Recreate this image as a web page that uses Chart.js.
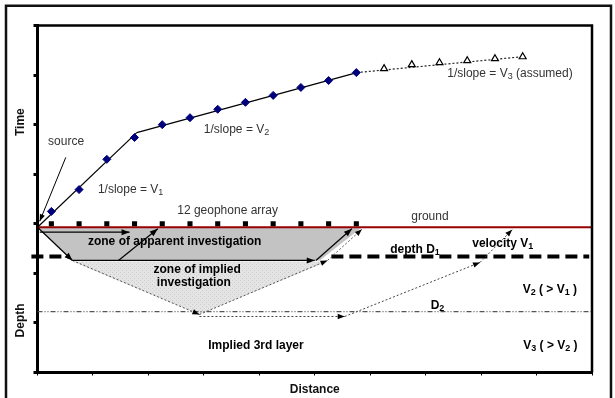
<!DOCTYPE html>
<html>
<head>
<meta charset="utf-8">
<script src="https://cdn.jsdelivr.net/npm/chart.js@4.4.0/dist/chart.umd.min.js"></script>
<style>
  html, body { margin: 0; padding: 0; background: #fff; }
  canvas { display: block; }
</style>
</head>
<body>
<canvas id="chart" width="615" height="398"></canvas>
<script>
// travel-time data (distance, time) - upper part of the figure
const geophoneX = [0.25, 0.75, 1.25, 1.75, 2.25, 2.75, 3.25, 3.75, 4.25, 4.75, 5.25, 5.75];
const arrivalTimes = [3.25, 3.69, 4.30, 4.74, 5.00, 5.14, 5.31, 5.45, 5.59, 5.75, 5.89, 6.05];
const assumedX = [6.25, 6.75, 7.25, 7.75, 8.25, 8.75];
const assumedTimes = [6.13, 6.21, 6.25, 6.29, 6.33, 6.37];
const directFit = [[0, 2.93], [1.79, 4.84]];
const refractedFit = [[1.79, 4.84], [5.76, 6.05]];
const assumedFit = [[5.76, 6.05], [8.74, 6.37]];

// section (distance, depth) - lower part
const groundY = 2.93;
const geophoneY = 3.0;
const depthD1Y = 2.34;
const depthD2Y = 1.23;
const depthD1Spans = [[-0.11, 0.6], [5.3, 9.95]];
const apparentZone = [[0, 2.93], [5.85, 2.93], [5.09, 2.26], [0.63, 2.26], [0, 2.93]];
const impliedZone = [[0.63, 2.24], [5.23, 2.24], [2.92, 1.17], [0.63, 2.24]];
const solidRays = [
  [[0, 2.93], [0.63, 2.26]],
  [[0.04, 2.83], [1.66, 2.83]],
  [[1.46, 2.26], [2.17, 2.9]],
  [[0.63, 2.26], [5.0, 2.26]],
  [[5.02, 2.26], [5.67, 2.9]]
];
const impliedRays = [
  [[0.63, 2.26], [2.92, 1.17]],
  [[2.92, 1.17], [5.23, 2.26]],
  [[5.23, 2.26], [5.85, 2.89]]
];
const deepRays = [
  [[2.92, 1.13], [5.54, 1.13]],
  [[5.54, 1.13], [7.98, 2.22]],
  [[7.98, 2.22], [8.56, 2.88]]
];
const sourcePointer = [[0.51, 4.34], [0.04, 3.05]];

// annotations (x, y in chart units, left aligned unless centred)
const notes = [
  { text: 'source', x: 0.19, y: 4.66 },
  { text: '1/slope = V_1', x: 1.09, y: 3.69 },
  { text: '1/slope = V_2', x: 3.0, y: 4.9 },
  { text: '1/slope = V_3 (assumed)', x: 7.39, y: 6.03 },
  { text: '12 geophone array', x: 2.52, y: 3.27 },
  { text: 'ground', x: 6.74, y: 3.15 },
  { text: 'zone of apparent investigation', x: 0.91, y: 2.64, bold: true },
  { text: 'zone of implied', x: 2.88, y: 2.08, bold: true, center: true },
  { text: 'investigation', x: 2.82, y: 1.82, bold: true, center: true },
  { text: 'depth D_1', x: 6.36, y: 2.48, bold: true },
  { text: 'velocity V_1', x: 7.84, y: 2.6, bold: true },
  { text: 'V_2 ( > V_1 )', x: 8.75, y: 1.67, bold: true },
  { text: 'D_2', x: 7.09, y: 1.35, bold: true },
  { text: 'Implied 3rd layer', x: 3.08, y: 0.54, bold: true },
  { text: 'V_3 ( > V_2 )', x: 8.76, y: 0.54, bold: true }
];

const FONT = '"Liberation Sans", Arial, sans-serif';
const xy = (arr) => arr.map(p => ({ x: p[0], y: p[1] }));

function hatch() {
  const p = document.createElement('canvas');
  p.width = 4; p.height = 4;
  const g = p.getContext('2d');
  g.fillStyle = '#e4e4e4'; g.fillRect(0, 0, 4, 4);
  g.fillStyle = '#cdcdcd'; g.fillRect(0, 0, 1, 1); g.fillRect(2, 2, 1, 1);
  return g.createPattern(p, 'repeat');
}

function line(data, color, width, dash, order, extra) {
  return Object.assign({
    data: xy(data), borderColor: color, borderWidth: width, borderDash: dash,
    pointRadius: 0, fill: false, tension: 0, order
  }, extra || {});
}

const datasets = [];
datasets.push(line(impliedZone, 'rgba(0,0,0,0)', 0, [], 10, { fill: 'shape', backgroundColor: hatch() }));
depthD1Spans.forEach(s => datasets.push(line([[s[0], depthD1Y], [s[1], depthD1Y]], '#000', 4, [12, 6], 9, { clip: false })));
datasets.push(line(apparentZone, 'rgba(0,0,0,0)', 0, [], 8, { fill: 'shape', backgroundColor: '#c3c3c3' }));
datasets.push(line([[0, depthD2Y], [10, depthD2Y]], '#555', 1.3, [5, 2, 1, 2, 1, 2], 7));
datasets.push(line([[0, groundY], [10, groundY]], '#990000', 2, [], 6));
solidRays.forEach(r => datasets.push(line(r, '#000', 1.2, [], 5, { arrow: 8 })));
impliedRays.forEach(r => datasets.push(line(r, '#555', 1, [2, 2], 5, { arrow: 7 })));
deepRays.forEach(r => datasets.push(line(r, '#444', 1, [2, 2], 5, { arrow: 7 })));
datasets.push(line(sourcePointer, '#000', 1, [], 5, { arrow: 7, clip: false }));
datasets.push({
  type: 'scatter', data: geophoneX.map(x => ({ x, y: geophoneY })),
  pointStyle: 'rect', pointRadius: 3.6, backgroundColor: '#000', borderColor: '#000', borderWidth: 0, order: 4
});
datasets.push(line(directFit, '#000', 1.2, [], 3));
datasets.push(line(refractedFit, '#000', 1.2, [], 3));
datasets.push(line(assumedFit, '#222', 1.2, [2, 2], 3));
datasets.push({
  type: 'scatter', data: geophoneX.map((x, i) => ({ x, y: arrivalTimes[i] })),
  pointStyle: 'rectRot', pointRadius: 4, backgroundColor: '#00007a', borderColor: '#00007a', borderWidth: 1, order: 1
});
datasets.push({
  type: 'scatter', data: assumedX.map((x, i) => ({ x, y: assumedTimes[i] })),
  pointStyle: 'triangle', pointRadius: 4, backgroundColor: '#fff', borderColor: '#000', borderWidth: 1.2, order: 1
});

function richText(c, str, x, y, size, bold, center) {
  const parts = str.split(/_(\d)/);
  const big = (bold ? 'bold ' : '') + size + 'px ' + FONT;
  const small = (bold ? 'bold ' : '') + Math.round(size * 0.72) + 'px ' + FONT;
  let w = 0;
  parts.forEach((p, i) => { c.font = i % 2 ? small : big; w += c.measureText(p).width; });
  let cx = center ? x - w / 2 : x;
  c.textBaseline = 'middle';
  c.textAlign = 'left';
  parts.forEach((p, i) => {
    c.font = i % 2 ? small : big;
    c.fillText(p, cx, i % 2 ? y + 3 : y);
    cx += c.measureText(p).width;
  });
}

const diagram = {
  id: 'diagram',
  beforeDraw(chart) {
    const c = chart.ctx;
    c.save();
    c.strokeStyle = '#111';
    c.lineWidth = 2.5;
    c.beginPath();
    c.moveTo(6, 400); c.lineTo(6, 5.8); c.lineTo(611, 5.8); c.lineTo(611, 400);
    c.stroke();
    c.restore();
  },
  afterDatasetsDraw(chart) {
    const c = chart.ctx;
    chart.data.datasets.forEach((ds, i) => {
      if (!ds.arrow) return;
      const pts = chart.getDatasetMeta(i).data;
      const a = pts[pts.length - 2], b = pts[pts.length - 1];
      const ang = Math.atan2(b.y - a.y, b.x - a.x);
      const len = ds.arrow, half = ds.arrow * 0.38;
      c.save();
      c.fillStyle = '#000';
      c.translate(b.x, b.y);
      c.rotate(ang);
      c.beginPath();
      c.moveTo(0, 0); c.lineTo(-len, -half); c.lineTo(-len, half);
      c.closePath();
      c.fill();
      c.restore();
    });
  },
  afterDraw(chart) {
    const c = chart.ctx;
    const { left, right, top, bottom } = chart.chartArea;
    const sx = chart.scales.x, sy = chart.scales.y;
    c.save();
    c.strokeStyle = '#000';
    c.lineWidth = 2.5;
    c.beginPath();
    c.moveTo(left, top); c.lineTo(right, top); c.lineTo(right, bottom);
    c.stroke();

    notes.forEach(n => {
      c.fillStyle = n.bold ? '#000' : '#333';
      richText(c, n.text, sx.getPixelForValue(n.x), sy.getPixelForValue(n.y), 12, n.bold, n.center);
    });

    c.fillStyle = '#111';
    c.font = 'bold 12px ' + FONT;
    c.textAlign = 'center';
    c.textBaseline = 'middle';
    c.fillText('Distance', (left + right) / 2 + 0, bottom + 17);
    [['Time', sy.getPixelForValue(5.05)], ['Depth', sy.getPixelForValue(1.05)]].forEach(([t, py]) => {
      c.save();
      c.translate(21, py);
      c.rotate(-Math.PI / 2);
      c.fillText(t, 0, 0);
      c.restore();
    });
    c.restore();
  }
};

new Chart(document.getElementById('chart'), {
  type: 'line',
  data: { datasets },
  options: {
    responsive: false,
    animation: false,
    events: [],
    layout: { padding: { top: 25.5, right: 23, left: 0, bottom: 0 } },
    plugins: { legend: { display: false }, tooltip: { enabled: false } },
    scales: {
      x: {
        type: 'linear', min: 0, max: 10,
        ticks: { display: false, stepSize: 1 },
        grid: { drawOnChartArea: false, drawTicks: true, tickLength: 3, tickWidth: 1, tickColor: '#000' },
        border: { display: true, color: '#000', width: 3 },
        afterFit: s => { s.height = 25.5; }
      },
      y: {
        type: 'linear', min: 0, max: 7,
        ticks: { display: false, stepSize: 1 },
        grid: { drawOnChartArea: false, drawTicks: true, tickLength: 4, tickWidth: 3, tickColor: '#000' },
        border: { display: true, color: '#000', width: 3 },
        afterFit: s => { s.width = 37.5; }
      }
    }
  },
  plugins: [diagram]
});
</script>
</body>
</html>
